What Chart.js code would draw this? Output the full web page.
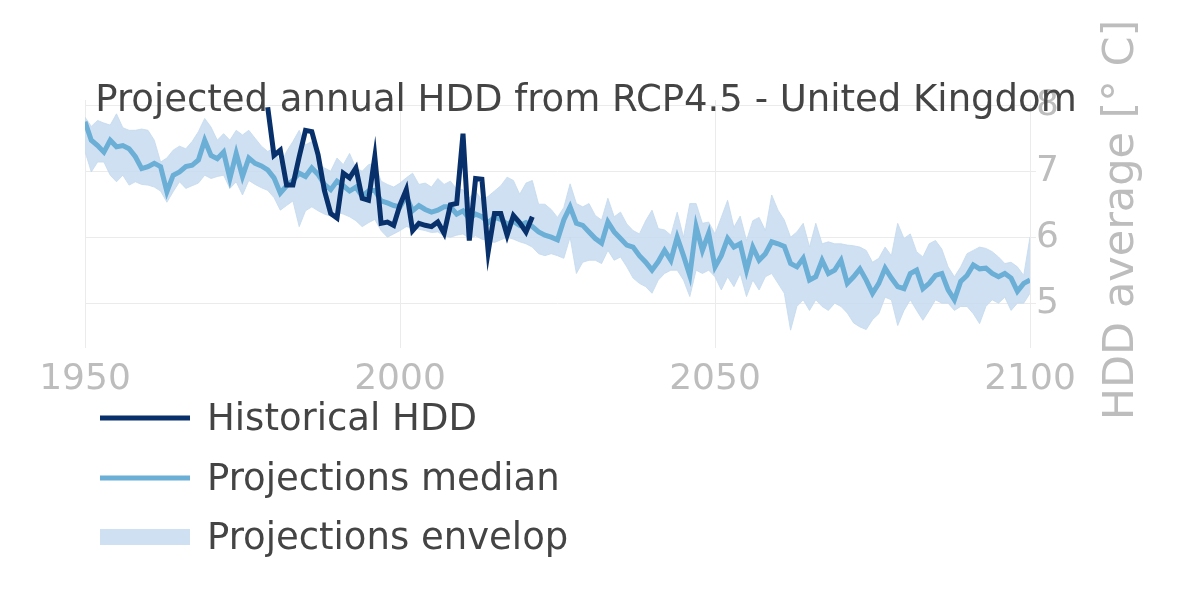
<!DOCTYPE html>
<html>
<head>
<meta charset="utf-8">
<script src="https://cdn.jsdelivr.net/npm/chart.js@4"></script>
<style>
    html, body { margin: 0; padding: 0; background: #fff; }
</style>
</head>
<body>
<canvas id="chart-hdd" width="1200" height="616"></canvas>
<script>
                        /*
                            ========================
                                DATOS DE LA GRÁFICA
                            ========================
                                                      */
const tituloGrafica = 'Projected annual HDD from RCP4.5 - United Kingdom';
const tituloEjeY = 'HDD average [° C]';

const etiquetaHistorico = 'Historical HDD';
const etiquetaMediana = 'Projections median';
const etiquetaEnvolvente = 'Projections envelop';

// años 1950 - 2100 (proyecciones) y 1979 - 2021 (histórico)
const aniosProyeccion = Array.from({ length: 151 }, (_, i) => 1950 + i);
const aniosHistorico = Array.from({ length: 43 }, (_, i) => 1979 + i);

const ticksX = [1950, 2000, 2050, 2100];
const ticksY = [5, 6, 7, 8];

const medianaProyeccion = [
    7.75, 7.47, 7.39, 7.29, 7.47, 7.37, 7.39, 7.34, 7.22, 7.04, 7.07, 7.12, 7.07, 6.69, 6.94, 6.99, 7.07, 7.09, 7.17, 7.47, 7.24, 7.19, 7.29, 6.89, 7.27,
    6.92, 7.20, 7.12, 7.08, 7.02, 6.90, 6.67, 6.78, 6.86, 6.97, 6.92, 7.05, 6.95, 6.80, 6.72, 6.85, 6.78, 6.70, 6.76, 6.62, 6.70, 6.71, 6.55, 6.52, 6.48,
    6.46, 6.62, 6.40, 6.48, 6.42, 6.38, 6.41, 6.46, 6.46, 6.35, 6.40, 6.28, 6.35, 6.31, 6.22, 6.30, 6.27, 6.20, 6.24, 6.18, 6.22, 6.16, 6.08, 6.03, 6.00,
    5.96, 6.26, 6.46, 6.21, 6.18, 6.08, 5.98, 5.91, 6.23, 6.08, 5.98, 5.88, 5.85, 5.72, 5.62, 5.50, 5.63, 5.80, 5.65, 6.00, 5.72, 5.42, 6.16, 5.80, 6.06,
    5.55, 5.72, 5.98, 5.85, 5.90, 5.50, 5.85, 5.65, 5.75, 5.93, 5.90, 5.86, 5.60, 5.55, 5.68, 5.35, 5.40, 5.65, 5.45, 5.50, 5.65, 5.30, 5.40, 5.52, 5.35,
    5.15, 5.30, 5.53, 5.38, 5.25, 5.22, 5.45, 5.50, 5.22, 5.30, 5.42, 5.45, 5.20, 5.05, 5.33, 5.42, 5.58, 5.52, 5.53, 5.45, 5.40, 5.45, 5.38, 5.18, 5.30, 5.35
];

const envolventeSuperior = [
    7.82, 7.68, 7.77, 7.73, 7.70, 7.87, 7.66, 7.62, 7.62, 7.64, 7.62, 7.47, 7.14, 7.20, 7.32, 7.38, 7.34, 7.45, 7.60, 7.80, 7.67, 7.47, 7.57, 7.47, 7.62,
    7.55, 7.62, 7.50, 7.38, 7.30, 7.35, 7.10, 7.30, 7.45, 7.62, 7.40, 7.45, 7.12, 7.05, 7.00, 7.20, 7.10, 7.27, 7.05, 7.00, 7.10, 7.12, 6.85, 6.80, 6.76,
    6.82, 6.90, 6.97, 6.80, 6.82, 6.76, 6.89, 6.80, 6.85, 6.73, 6.72, 6.60, 6.70, 6.56, 6.62, 6.70, 6.78, 6.91, 6.86, 6.65, 6.82, 6.86, 6.50, 6.50, 6.42,
    6.30, 6.45, 6.81, 6.51, 6.46, 6.51, 6.33, 6.26, 6.59, 6.31, 6.38, 6.20, 6.10, 6.05, 6.25, 6.41, 6.13, 6.11, 6.03, 6.38, 6.00, 6.51, 6.51, 6.21, 6.23,
    6.05, 6.30, 6.56, 6.15, 6.32, 5.95, 6.25, 6.30, 6.10, 6.64, 6.41, 6.26, 6.00, 6.08, 6.21, 5.85, 6.21, 5.90, 5.93, 5.90, 5.90, 5.88, 5.87, 5.85, 5.80,
    5.62, 5.68, 5.85, 5.72, 6.21, 5.98, 6.05, 5.78, 5.70, 5.90, 5.95, 5.82, 5.55, 5.40, 5.55, 5.75, 5.80, 5.85, 5.83, 5.78, 5.70, 5.60, 5.62, 5.55, 5.42, 6.00
];

const envolventeInferior = [
    7.30, 6.99, 7.14, 7.14, 6.94, 6.84, 6.94, 6.79, 6.84, 6.80, 6.79, 6.76, 6.70, 6.53, 6.69, 6.84, 6.74, 6.78, 6.82, 6.94, 6.89, 6.92, 6.94, 6.74, 6.84,
    6.64, 6.86, 6.80, 6.75, 6.71, 6.60, 6.41, 6.48, 6.55, 6.16, 6.40, 6.46, 6.40, 6.35, 6.32, 6.38, 6.35, 6.31, 6.25, 6.16, 6.22, 6.27, 6.10, 6.00, 6.05,
    6.10, 6.16, 6.14, 6.12, 6.10, 6.07, 6.08, 6.02, 6.00, 6.03, 6.05, 5.98, 6.02, 5.97, 5.95, 5.92, 5.96, 6.00, 5.97, 5.93, 5.90, 5.85, 5.75, 5.72, 5.75,
    5.72, 5.68, 6.00, 5.45, 5.62, 5.65, 5.65, 5.60, 5.80, 5.65, 5.70, 5.55, 5.38, 5.30, 5.25, 5.15, 5.35, 5.45, 5.50, 5.50, 5.35, 5.10, 5.50, 5.45, 5.50,
    5.40, 5.20, 5.40, 5.25, 5.45, 5.10, 5.35, 5.20, 5.40, 5.45, 5.30, 5.15, 4.59, 4.95, 5.05, 4.89, 5.05, 4.95, 4.89, 5.00, 4.95, 4.85, 4.70, 4.64, 4.60,
    4.75, 4.84, 5.09, 5.05, 4.66, 4.89, 5.05, 4.89, 4.74, 4.89, 5.05, 5.00, 5.00, 4.89, 4.95, 4.95, 4.84, 4.69, 4.95, 5.05, 5.00, 5.09, 4.89, 5.00, 5.00, 5.15
];

const hddHistorico = [
    7.97, 7.24, 7.32, 6.79, 6.79, 7.22, 7.62, 7.60, 7.25, 6.71, 6.36, 6.29, 6.97, 6.90, 7.05, 6.59, 6.56, 7.22, 6.21, 6.23, 6.18,
    6.49, 6.72, 6.10, 6.21, 6.18, 6.16, 6.23, 6.06, 6.49, 6.51, 7.57, 5.95, 6.89, 6.88, 5.78, 6.36, 6.36, 6.03, 6.33, 6.22, 6.08, 6.31
];

                        /*
                            ========================
                                 COLORES Y FUENTES
                            ========================
                                                      */
const colorHistorico = '#08306b';
const colorMediana = '#6baed6';
const colorEnvolvente = 'rgba(198,219,239,0.85)';
const colorTicks = '#bdbdbd';
const colorTexto = '#444';
const colorRejilla = '#ebebeb';
const fuente = '"DejaVu Sans", Verdana, sans-serif';

function puntos(anios, valores) {
    return anios.map((a, i) => ({ x: a, y: valores[i] }));
}

                        /*
                            ========================
                            TÍTULO, EJE Y Y LEYENDA
                            ========================
                                                      */
const textosExtra = {
    id: 'textosExtra',
    afterDraw(chart) {
        const ctx = chart.ctx;
        ctx.save();

        // leyenda
        const filas = [
            { texto: etiquetaHistorico, color: colorHistorico, y: 418, tipo: 'linea' },
            { texto: etiquetaMediana, color: colorMediana, y: 478, tipo: 'linea' },
            { texto: etiquetaEnvolvente, color: colorEnvolvente, y: 537, tipo: 'caja' }
        ];
        ctx.font = '37px ' + fuente;
        ctx.textBaseline = 'middle';
        ctx.textAlign = 'left';
        filas.forEach(f => {
            if (f.tipo === 'linea') {
                ctx.strokeStyle = f.color;
                ctx.lineWidth = 5;
                ctx.beginPath();
                ctx.moveTo(100, f.y);
                ctx.lineTo(190, f.y);
                ctx.stroke();
            } else {
                ctx.fillStyle = f.color;
                ctx.fillRect(100, f.y - 8, 90, 16);
            }
            ctx.fillStyle = colorTexto;
            ctx.fillText(f.texto, 207, f.y + 2);
        });

        // título del eje y (de abajo hacia arriba)
        ctx.font = '43px ' + fuente;
        ctx.translate(1122, 220);
        ctx.rotate(-Math.PI / 2);
        ctx.fillStyle = colorTicks;
        ctx.textAlign = 'center';
        ctx.fillText(tituloEjeY, 0, 0);
        ctx.restore();

        // título encima de todo
        ctx.save();
        ctx.font = '37px ' + fuente;
        ctx.fillStyle = colorTexto;
        ctx.textAlign = 'center';
        ctx.textBaseline = 'alphabetic';
        ctx.fillText(tituloGrafica, 586, 111);
        ctx.restore();
    }
};

let ctxHdd = document.getElementById('chart-hdd');

let graficaHdd = new Chart(ctxHdd, {
    type: 'line',
    data: {
        datasets: [
            {
                label: etiquetaHistorico,
                data: puntos(aniosHistorico, hddHistorico),
                borderColor: colorHistorico,
                borderWidth: 5,
                pointRadius: 0,
                tension: 0,
                fill: false,
                order: 0
            },
            {
                label: etiquetaMediana,
                data: puntos(aniosProyeccion, medianaProyeccion),
                borderColor: colorMediana,
                borderWidth: 5,
                pointRadius: 0,
                tension: 0,
                fill: false,
                order: 1
            },
            {
                label: etiquetaEnvolvente,
                data: puntos(aniosProyeccion, envolventeSuperior),
                borderColor: colorEnvolvente,
                backgroundColor: colorEnvolvente,
                borderWidth: 1,
                pointRadius: 0,
                tension: 0,
                fill: '+1',
                order: 2
            },
            {
                label: etiquetaEnvolvente + ' (min)',
                data: puntos(aniosProyeccion, envolventeInferior),
                borderColor: colorEnvolvente,
                borderWidth: 1,
                pointRadius: 0,
                tension: 0,
                fill: false,
                order: 3
            }
        ]
    },
    options: {
        responsive: false,
        animation: false,
        layout: {
            padding: { left: 85, top: 100, right: 0, bottom: 0 }
        },
        scales: {
            x: {
                type: 'linear',
                min: 1950,
                max: 2100,
                afterBuildTicks: s => { s.ticks = ticksX.map(v => ({ value: v })); },
                afterFit: s => { s.height = 268; },
                ticks: {
                    color: colorTicks,
                    font: { size: 36, family: fuente },
                    padding: 10,
                    maxRotation: 0,
                    callback: v => String(v)
                },
                grid: { color: colorRejilla, drawTicks: false },
                border: { display: false }
            },
            y: {
                position: 'right',
                min: 4.32,
                max: 8.08,
                afterBuildTicks: s => { s.ticks = ticksY.map(v => ({ value: v })); },
                afterFit: s => { s.width = 170; },
                ticks: {
                    color: colorTicks,
                    font: { size: 36, family: fuente },
                    padding: 0,
                    callback: v => String(v)
                },
                grid: { color: colorRejilla, tickLength: 6 },
                border: { display: false }
            }
        },
        plugins: {
            legend: false,
            title: { display: false },
            tooltip: { enabled: false }
        }
    },
    plugins: [textosExtra]
});
</script>
</body>
</html>
